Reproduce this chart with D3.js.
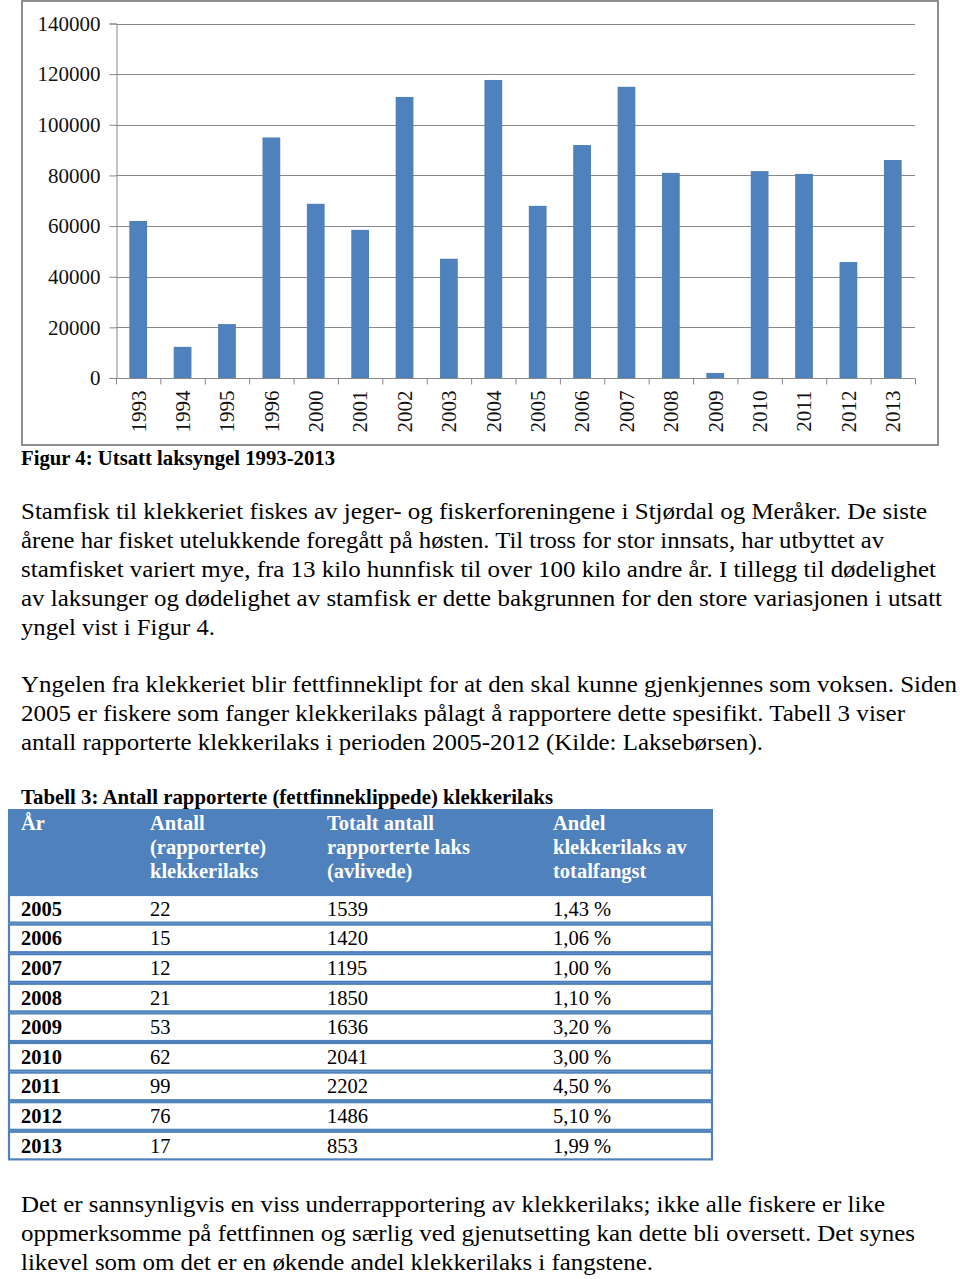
<!DOCTYPE html>
<html><head><meta charset="utf-8">
<script src="https://cdn.jsdelivr.net/npm/d3@7"></script>
<style>
html,body{margin:0;padding:0;background:#fff;}
svg text{font-family:"Liberation Serif","Times New Roman",serif;}
</style></head>
<body>
<svg id="page" width="960" height="1279"></svg>
<script>
// ---- chart data ----
const years = ["1993","1994","1995","1996","2000","2001","2002","2003","2004","2005","2006","2007","2008","2009","2010","2011","2012","2013"];
const yngel = [62000,12300,21300,95000,68800,58500,111000,47100,117700,68000,92000,115000,81000,2000,81700,80600,45800,86100];
const yTicks = [0,20000,40000,60000,80000,100000,120000,140000];

// ---- table data ----
const tabYears = ["2005","2006","2007","2008","2009","2010","2011","2012","2013"];
const tabKlekk = ["22","15","12","21","53","62","99","76","17"];
const tabTotal = ["1539","1420","1195","1850","1636","2041","2202","1486","853"];
const tabAndel = ["1,43 %","1,06 %","1,00 %","1,10 %","3,20 %","3,00 %","4,50 %","5,10 %","1,99 %"];
const tabHeaders = [["År"],["Antall","(rapporterte)","klekkerilaks"],["Totalt antall","rapporterte laks","(avlivede)"],["Andel","klekkerilaks av","totalfangst"]];

// ---- document text ----
const figCaption = "Figur 4: Utsatt laksyngel 1993-2013";
const para1 = ["Stamfisk til klekkeriet fiskes av jeger- og fiskerforeningene i Stjørdal og Meråker. De siste",
"årene har fisket utelukkende foregått på høsten. Til tross for stor innsats, har utbyttet av",
"stamfisket variert mye, fra 13 kilo hunnfisk til over 100 kilo andre år. I tillegg til dødelighet",
"av laksunger og dødelighet av stamfisk er dette bakgrunnen for den store variasjonen i utsatt",
"yngel vist i Figur 4."];
const para2 = ["Yngelen fra klekkeriet blir fettfinneklipt for at den skal kunne gjenkjennes som voksen. Siden",
"2005 er fiskere som fanger klekkerilaks pålagt å rapportere dette spesifikt. Tabell 3 viser",
"antall rapporterte klekkerilaks i perioden 2005-2012 (Kilde: Laksebørsen)."];
const tabCaption = "Tabell 3: Antall rapporterte (fettfinneklippede) klekkerilaks";
const para3 = ["Det er sannsynligvis en viss underrapportering av klekkerilaks; ikke alle fiskere er like",
"oppmerksomme på fettfinnen og særlig ved gjenutsetting kan dette bli oversett. Det synes",
"likevel som om det er en økende andel klekkerilaks i fangstene."];

// layout: right edge of each text line in the page
const ends1 = [927,884,936,942,215], ends2 = [957,905,763], ends3 = [885,915,653];

const svg = d3.select("#page");
const blue = "#4F81BD";

// ---- chart ----
svg.append("rect").attr("x",22).attr("y",1).attr("width",916).attr("height",444)
  .attr("fill","#fff").attr("stroke","#8e8e8e").attr("stroke-width",2);

const plot = {l:116, r:915, t:23.5, b:378};
const x = d3.scaleBand().domain(years).range([plot.l, plot.r]).padding(0);
const y = d3.scaleLinear().domain([0,140000]).range([plot.b, plot.t]);
const g = svg.append("g");

g.append("g").selectAll("line").data(yTicks.filter(d=>d>0)).join("line")
  .attr("x1",plot.l).attr("x2",plot.r)
  .attr("y1",d=>Math.round(y(d))+0.5).attr("y2",d=>Math.round(y(d))+0.5)
  .attr("stroke","#888").attr("stroke-width",1);

const yAxis = g.append("g").attr("transform",`translate(${plot.l+0.5},0)`)
  .call(d3.axisLeft(y).tickValues(yTicks).tickSize(7).tickPadding(9).tickFormat(d3.format("d")))
  .attr("font-family","Liberation Serif");
yAxis.select(".domain").attr("stroke","#888");
yAxis.selectAll(".tick line").attr("stroke","#888");
yAxis.selectAll("text").attr("font-size",21).attr("fill","#111");

const bw = x.bandwidth()/2.5;
g.append("g").selectAll("rect").data(years).join("rect")
  .attr("x",(d)=>x(d)+x.bandwidth()/2-bw/2)
  .attr("width",bw)
  .attr("y",(d,i)=>y(yngel[i]))
  .attr("height",(d,i)=>plot.b-y(yngel[i]))
  .attr("fill",blue);

const xb = g.append("g").attr("transform",`translate(0,${plot.b+0.5})`);
xb.append("line").attr("x1",plot.l).attr("x2",plot.r).attr("stroke","#888");
const bounds = years.map(d=>x(d)).concat([plot.r]);
xb.selectAll("line.tk").data(bounds).join("line").attr("class","tk")
  .attr("x1",d=>d+0.5).attr("x2",d=>d+0.5).attr("y1",0).attr("y2",6).attr("stroke","#888");
xb.selectAll("text").data(years).join("text")
  .attr("transform",d=>`translate(${x(d)+x.bandwidth()/2},12) rotate(-90)`)
  .attr("text-anchor","end").attr("dy","0.35em")
  .attr("font-size",21).attr("fill","#111").text(d=>d);

// ---- document text ----
function lines(arr, ends, x0, y0, lh, size, weight){
  const gg = svg.append("g");
  gg.selectAll("text").data(arr).join("text")
    .attr("x",x0).attr("y",(d,i)=>y0+i*lh)
    .attr("font-size",size).attr("font-weight",weight||"normal").attr("fill","#000")
    .attr("textLength",(d,i)=>ends[i]-x0).attr("lengthAdjust","spacingAndGlyphs")
    .text(d=>d);
  return gg;
}
lines([figCaption], [335], 21, 465, 0, 20, "bold");
lines(para1, ends1, 21, 519, 29, 23.5);
lines(para2, ends2, 21, 692, 29, 23.5);
lines([tabCaption], [553], 21, 804, 0, 20, "bold");
lines(para3, ends3, 21, 1212, 29, 23.5);

// ---- table ----
const colX = [21,150,327,553];
const tL = 8, tR = 713, hTop = 809, hBot = 894, rowH = 29.6;
svg.append("rect").attr("x",tL).attr("y",hTop).attr("width",tR-tL).attr("height",hBot-hTop).attr("fill",blue);
tabHeaders.forEach((hl,c)=>{
  svg.append("g").selectAll("text").data(hl).join("text")
    .attr("x",colX[c]).attr("y",(d,i)=>830+i*24)
    .attr("font-size",20.5).attr("font-weight","bold").attr("fill","#fff").text(d=>d);
});
const rows = svg.append("g");
tabYears.forEach((yr,i)=>{
  const top = hBot + i*rowH;
  rows.append("rect").attr("x",tL+1).attr("y",top+1).attr("width",tR-tL-2).attr("height",rowH-2)
    .attr("fill","#fff").attr("stroke",blue).attr("stroke-width",2.2);
  const vals = [yr, tabKlekk[i], tabTotal[i], tabAndel[i]];
  vals.forEach((v,c)=>{
    rows.append("text").attr("x",colX[c]).attr("y",top+rowH/2+7)
      .attr("font-size",20.5).attr("font-weight",c===0?"bold":"normal").attr("fill","#000").text(v);
  });
});
</script>
</body></html>
